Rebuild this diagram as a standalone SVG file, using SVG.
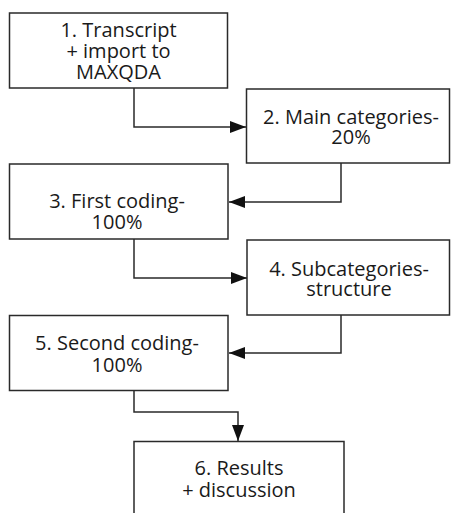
<svg xmlns="http://www.w3.org/2000/svg" width="451" height="513" viewBox="0 0 451 513">
  <style>
    .box { fill: #ffffff; stroke: #2a2a2a; stroke-width: 1.5; }
    .lbl { font-family: "Open Sans", "Noto Sans", sans-serif; font-size: 20px; fill: #1a1a1a; text-anchor: middle; }
    .wire { fill: none; stroke: #2a2a2a; stroke-width: 1.5; }
  </style>
  <defs>
    <marker id="arrow" viewBox="0 0 16 12" refX="16" refY="6" markerWidth="16" markerHeight="12" markerUnits="userSpaceOnUse" orient="auto">
      <path d="M0,0 L16,6 L0,12 Z" fill="#111111"/>
    </marker>
  </defs>
  <rect width="451" height="513" fill="#ffffff"/>

  <g id="connectors">
    <path class="wire" d="M134,88 V127 H246" marker-end="url(#arrow)"/>
    <path class="wire" d="M341,163 V202 H229" marker-end="url(#arrow)"/>
    <path class="wire" d="M134,239 V278 H247" marker-end="url(#arrow)"/>
    <path class="wire" d="M341,315 V353 H229" marker-end="url(#arrow)"/>
    <path class="wire" d="M134,391 V412 H238 V441" marker-end="url(#arrow)"/>
  </g>

  <g id="step1">
    <rect class="box" x="9.5" y="13" width="218" height="75"/>
    <text class="lbl" x="118.5" y="36.5">1. Transcript</text>
    <text class="lbl" x="118.5" y="57.5">+ import to</text>
    <text class="lbl" x="118.5" y="79">MAXQDA</text>
  </g>

  <g id="step2">
    <rect class="box" x="246.5" y="89" width="203" height="74"/>
    <text class="lbl" x="351" y="124">2. Main categories-</text>
    <text class="lbl" x="351" y="144">20%</text>
  </g>

  <g id="step3">
    <rect class="box" x="9.5" y="164" width="218.5" height="75"/>
    <text class="lbl" x="117" y="208">3. First coding-</text>
    <text class="lbl" x="117" y="228.5">100%</text>
  </g>

  <g id="step4">
    <rect class="box" x="247" y="240" width="202.5" height="75"/>
    <text class="lbl" x="349" y="275.5">4. Subcategories-</text>
    <text class="lbl" x="349" y="296">structure</text>
  </g>

  <g id="step5">
    <rect class="box" x="9.5" y="315.5" width="218.5" height="75"/>
    <text class="lbl" x="117" y="350">5. Second coding-</text>
    <text class="lbl" x="117" y="371.5">100%</text>
  </g>

  <g id="step6">
    <rect class="box" x="134" y="441.5" width="210" height="85"/>
    <text class="lbl" x="239" y="475">6. Results</text>
    <text class="lbl" x="239" y="496.5">+ discussion</text>
  </g>
</svg>
